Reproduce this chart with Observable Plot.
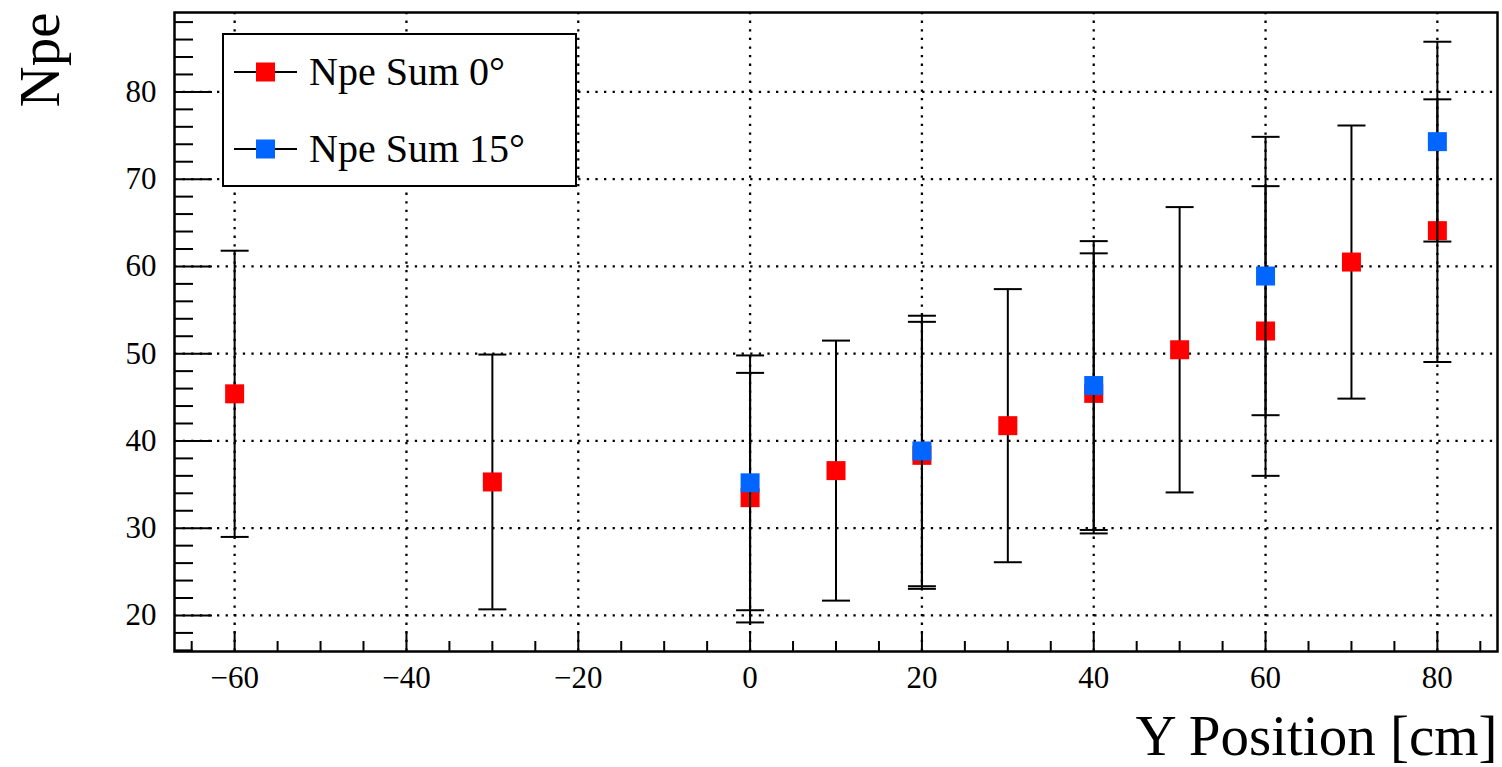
<!DOCTYPE html>
<html>
<head>
<meta charset="utf-8">
<script src="https://cdn.jsdelivr.net/npm/d3@7"></script>
<script src="https://cdn.jsdelivr.net/npm/@observablehq/plot@0.6"></script>
<style>
  html, body { margin: 0; padding: 0; background: #fff; }
  #wrap { position: relative; width: 1502px; height: 767px; }
  #legend { position: absolute; left: 0; top: 0; }
</style>
</head>
<body>
<div id="wrap"></div>
<script>
// ---- data ----
const posRed = [-60, -30, 0, 10, 20, 30, 40, 50, 60, 70, 80];
const npe0   = [45.4, 35.3, 33.5, 36.6, 38.35, 41.75, 45.45, 50.45, 52.6, 60.5, 64.1];
const err0   = [16.4, 14.6, 14.3, 14.9, 15.3, 15.65, 16.05, 16.35, 16.6, 15.65, 15.05];

const posBlue = [0, 20, 40, 60, 80];
const npe15   = [35.2, 38.85, 46.35, 58.9, 74.3];
const err15   = [14.6, 15.5, 16.55, 15.95, 11.45];

const xTickLabels = [-60, -40, -20, 0, 20, 40, 60, 80];
const yTickLabels = [20, 30, 40, 50, 60, 70, 80];
const xMinorTicks = d3.range(-65, 86, 5).filter(v => !xTickLabels.includes(v));
const yMinorTicks = d3.range(16, 89, 2).filter(v => !yTickLabels.includes(v));

const seriesNames = ["Npe Sum 0°", "Npe Sum 15°"];
const seriesColors = ["#ff0000", "#0066ff"];

// ---- layout ----
const W = 1502, H = 767, mL = 174, mR = 5, mT = 12, mB = 116;
const plotW = W - mL - mR, plotH = H - mT - mB;
const serif = "Liberation Serif, Times New Roman, serif";

const red = posRed.map((x, i) => ({x, y: npe0[i], lo: npe0[i] - err0[i], hi: npe0[i] + err0[i]}));
const blue = posBlue.map((x, i) => ({x, y: npe15[i], lo: npe15[i] - err15[i], hi: npe15[i] + err15[i]}));

const capSymbol = {draw(ctx, size) { const r = Math.sqrt(size / Math.PI); ctx.moveTo(-r, 0); ctx.lineTo(r, 0); }};
const squareSymbol = {draw(ctx, size) { const r = Math.sqrt(size / Math.PI); ctx.rect(-r, -r, 2 * r, 2 * r); }};

const dotted = {stroke: "black", strokeWidth: 2.3, strokeDasharray: "2.3,6.3", strokeOpacity: 1};

function seriesMarks(data, color) {
  return [
    Plot.ruleX(data, {x: "x", y1: "lo", y2: "hi", stroke: "black", strokeWidth: 2}),
    Plot.dot(data, {x: "x", y: "hi", symbol: capSymbol, r: 14, stroke: "black", strokeWidth: 2, fill: "none"}),
    Plot.dot(data, {x: "x", y: "lo", symbol: capSymbol, r: 14, stroke: "black", strokeWidth: 2, fill: "none"}),
    Plot.dot(data, {x: "x", y: "y", symbol: squareSymbol, r: 9.5, fill: color, stroke: "none"})
  ];
}

const chart = Plot.plot({
  width: W, height: H,
  marginLeft: mL, marginRight: mR, marginTop: mT, marginBottom: mB,
  style: {fontFamily: serif, fontSize: "31px", color: "black", background: "white"},
  x: {domain: [-67, 87], ticks: xTickLabels, tickSize: 0, tickPadding: 14, label: null},
  y: {domain: [15.87, 89.1], ticks: yTickLabels, tickSize: 0, tickPadding: 18, label: null},
  marks: [
    Plot.ruleX(xTickLabels, {x: d => d, ...dotted}),
    Plot.ruleY(yTickLabels, {y: d => d, ...dotted}),
    ...seriesMarks(red, seriesColors[0]),
    ...seriesMarks(blue, seriesColors[1]),
    Plot.tickX(xTickLabels, {x: d => d, insetTop: plotH - 20, stroke: "black", strokeWidth: 2}),
    Plot.tickX(xMinorTicks, {x: d => d, insetTop: plotH - 10, stroke: "black", strokeWidth: 2}),
    Plot.tickY(yTickLabels, {y: d => d, insetRight: plotW - 38, stroke: "black", strokeWidth: 2}),
    Plot.tickY(yMinorTicks, {y: d => d, insetRight: plotW - 19, stroke: "black", strokeWidth: 2}),
    Plot.frame({stroke: "black", strokeWidth: 2.5}),
    Plot.text(["Y Position [cm]"], {frameAnchor: "bottom-right", textAnchor: "end", lineAnchor: "middle", dy: 85, fontSize: 57, fontFamily: serif, fill: "black"}),
    Plot.text(["Npe"], {frameAnchor: "top-left", rotate: -90, textAnchor: "end", lineAnchor: "middle", dx: -134, fontSize: 57, fontFamily: serif, fill: "black"})
  ]
});
document.getElementById("wrap").appendChild(chart);

// ---- legend ----
const legend = d3.select("#wrap").append("svg")
  .attr("id", "legend").attr("width", W).attr("height", 200);
legend.append("rect").attr("x", 223).attr("y", 34).attr("width", 353).attr("height", 152)
  .attr("fill", "white").attr("stroke", "black").attr("stroke-width", 2);
const rowsY = [72, 149];
seriesNames.forEach((name, i) => {
  const g = legend.append("g").attr("transform", `translate(0,${rowsY[i]})`);
  g.append("line").attr("x1", 234).attr("x2", 297).attr("y1", 0).attr("y2", 0)
    .attr("stroke", "black").attr("stroke-width", 2);
  g.append("rect").attr("x", 256).attr("y", -9.5).attr("width", 19).attr("height", 19).attr("fill", seriesColors[i]);
  g.append("text").attr("x", 309).attr("y", 0).attr("dy", "0.33em")
    .attr("font-family", serif).attr("font-size", 40)
    .attr("fill", "black").text(name);
});
</script>
</body>
</html>
